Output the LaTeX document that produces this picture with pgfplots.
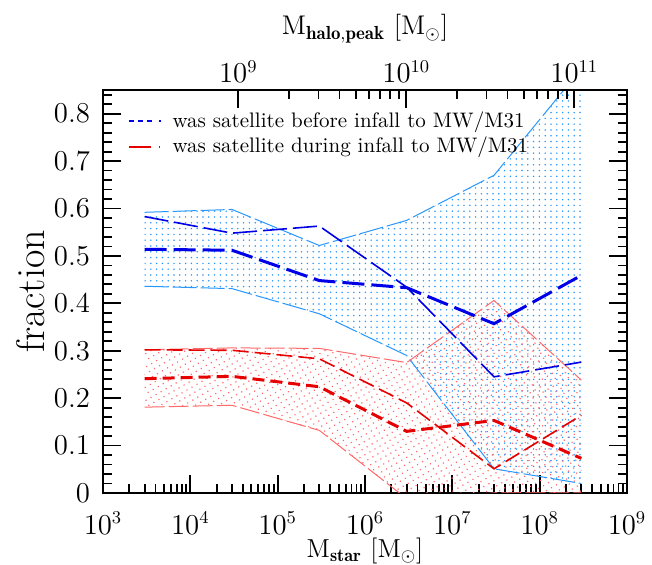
\documentclass[border=0pt]{standalone}
\usepackage{fontspec}
\usepackage{pgfplots}
\usepackage{pgfplotstable}
\pgfplotsset{compat=1.18}
\usepgfplotslibrary{fillbetween}
\usetikzlibrary{patterns.meta}
\definecolor{bandblue}{RGB}{40,150,255}
\definecolor{bandred}{RGB}{255,105,105}
\definecolor{lineblue}{RGB}{0,0,230}
\definecolor{linered}{RGB}{230,0,0}

\pgfplotstableread{
x    bu    bl    bk    bt    ru    rl     rk    rt
3e3  0.592 0.436 0.514 0.583 0.302 0.181  0.241 0.302
3e4  0.598 0.431 0.512 0.548 0.306 0.185  0.246 0.301
3e5  0.522 0.378 0.448 0.563 0.305 0.132  0.224 0.283
3e6  0.575 0.290 0.433 0.434 0.275 -0.012 0.130 0.190
3e7  0.670 0.051 0.357 0.245 0.406 0.000  0.153 0.051
3e8  0.895 0.020 0.459 0.276 0.238 0.000  0.073 0.164
}\data

\begin{document}
\begin{tikzpicture}
\pgfplotsset{
  every axis/.append style={
    scale only axis, width=262pt, height=201.5pt,
    axis line style={line width=1.4pt},
    tick align=inside,
    major tick length=9pt, minor tick length=4.5pt,
    every tick/.style={black, line width=0.9pt},
    tick label style={font=\fontsize{13.5}{15}\selectfont},
  }
}
\begin{axis}[
  xmode=log, xmin=1e3, xmax=1e9,
  ymin=0, ymax=0.85,
  xtick={1e3,1e4,1e5,1e6,1e7,1e8,1e9},
  xtick pos=bottom, xticklabel pos=bottom,
  ytick={0,0.1,0.2,0.3,0.4,0.5,0.6,0.7,0.8},
  minor ytick={0.02,0.04,...,0.84},
  ytick pos=both, yticklabel pos=left,
  yticklabel style={/pgf/number format/fixed, /pgf/number format/precision=1, xshift=-3pt},
  xticklabel style={yshift=-6pt},
  xlabel={M$_{\mathbf{star}}$ [M$_\odot$]},
  xlabel style={font=\fontsize{13}{15}\selectfont\addfontfeatures{FakeStretch=1.12}, at={(axis description cs:0.5,0)}, anchor=base, yshift=-32.5pt},
  ylabel={fraction},
  ylabel style={font=\fontsize{20}{22}\selectfont, at={(axis description cs:-0.139,0.5)}, anchor=center},
  legend image code/.code={\draw[#1] (0pt,0pt) -- (16pt,0pt);},
  legend style={draw=none, fill=none, at={(0.035,0.965)}, anchor=north west,
    font=\fontsize{10.5}{12}\selectfont\addfontfeatures{FakeStretch=1.1},
    nodes={inner sep=1.5pt}, row sep=0.5pt,
    /tikz/every odd column/.style={column sep=4pt}},
  legend cell align=left,
]
\addlegendimage{draw=lineblue, line width=0.9pt, dash pattern=on 2.5pt off 2.2pt on 2.5pt off 2.2pt on 2.5pt off 3.5pt on 0.8pt off 5pt}
\addlegendimage{draw=linered, line width=0.9pt, dash pattern=on 11pt off 4pt on 0.8pt off 5pt}

% blue band
\addplot[name path=BU, bandblue, line width=0.5pt, dash pattern=on 12pt off 2pt] table[x=x,y=bu]{\data};
\addplot[name path=BL, bandblue, line width=0.5pt, dash pattern=on 12pt off 2pt] table[x=x,y=bl]{\data};
\addplot[draw=none, pattern={Dots[distance=2.9pt, radius=0.42pt]}, pattern color=bandblue] fill between[of=BU and BL];

% red band
\addplot[name path=RU, bandred, line width=0.5pt, dash pattern=on 10pt off 2pt] table[x=x,y=ru]{\data};
\addplot[name path=RL, bandred, line width=0.5pt, dash pattern=on 10pt off 2pt] table[x=x,y=rl]{\data};
\addplot[draw=none, pattern={Dots[distance=2.9pt, radius=0.42pt, angle=30]}, pattern color=bandred] fill between[of=RU and RL];

% lines
\addplot[lineblue, line width=0.8pt, dash pattern=on 12pt off 3pt] table[x=x,y=bt]{\data};
\addplot[lineblue, line width=1.5pt, dash pattern=on 11pt off 3.5pt] table[x=x,y=bk]{\data};
\addplot[linered, line width=0.8pt, dash pattern=on 8pt off 3pt] table[x=x,y=rt]{\data};
\addplot[linered, line width=1.5pt, dash pattern=on 6pt off 3pt] table[x=x,y=rk]{\data};

\legend{was satellite before infall to MW/M31, was satellite during infall to MW/M31}

\coordinate (sw) at (rel axis cs:0,0);
\coordinate (ne) at (rel axis cs:1,1);
\end{axis}

\begin{axis}[
  xmode=log, xmin=1.5655e8, xmax=2.0597e11,
  ymin=0, ymax=1,
  hide y axis,
  axis x line*=top,
  tick align=inside,
  xtick={1e9,1e10,1e11},
  xlabel={M$_{\mathbf{halo,peak}}$ [M$_\odot$]},
  xlabel style={font=\fontsize{13.5}{15}\selectfont, at={(axis description cs:0.5,1)}, anchor=base, yshift=27.5pt},
]
\end{axis}
\pgfresetboundingbox
\useasboundingbox ([shift={(-51.5pt,-36pt)}]sw) rectangle ([shift={(12.5pt,45pt)}]ne);
\end{tikzpicture}
\end{document}
